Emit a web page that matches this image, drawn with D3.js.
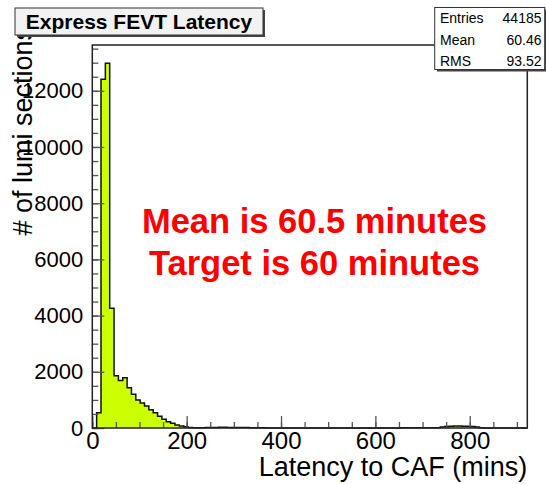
<!DOCTYPE html>
<html>
<head>
<meta charset="utf-8">
<script src="https://cdn.jsdelivr.net/npm/d3@7"></script>
<style>
  html, body { margin: 0; padding: 0; background: #fff; }
  svg { display: block; font-family: "Liberation Sans", Arial, Helvetica, sans-serif; }
</style>
</head>
<body>
<div id="chart"></div>
<script>
// histogram: 100 bins from 0 to 922 minutes
var xMin = 0, xMax = 922;
var binCounts = [
    0, 540, 12410, 12980, 4260, 1860, 1690, 1790, 1430, 1200,
    1000, 890, 780, 650, 540, 420, 310, 225, 165, 110,
    72, 45, 20, 12, 8, 10, 14, 18, 22, 24,
    24, 22, 20, 18, 16, 14, 12, 10, 8, 5,
    3, 2, 2, 1, 1, 0, 0, 0, 0, 0,
    0, 0, 0, 0, 0, 0, 0, 0, 0, 0,
    0, 0, 0, 0, 0, 0, 0, 0, 0, 3,
    4, 5, 5, 6, 6, 6, 7, 7, 8, 10,
    35, 50, 62, 68, 70, 66, 60, 50, 32, 12,
    4, 2, 0, 0, 0, 0, 0, 0, 0, 0
];
var xTicks = [0, 200, 400, 600, 800];
var yTicks = [0, 2000, 4000, 6000, 8000, 10000, 12000];
var statLabels = ['Entries', 'Mean', 'RMS'];
var statValues = ['44185', '60.46', '93.52'];
var noteLines = ['Mean is 60.5 minutes', 'Target is 60 minutes'];

var width = 546, height = 484;
var frame = {left: 92.3, right: 527.3, top: 45, bottom: 428};

var svg = d3.select('#chart').append('svg')
    .attr('width', width)
    .attr('height', height);

var binWidth = (xMax - xMin) / binCounts.length;
var yMax = d3.max(binCounts) * 1.05;

var x = d3.scaleLinear().domain([xMin, xMax]).range([frame.left, frame.right]);
var y = d3.scaleLinear().domain([0, yMax]).range([frame.bottom, frame.top]);

// frame background
svg.append('rect')
    .attr('x', frame.left).attr('y', frame.top)
    .attr('width', frame.right - frame.left)
    .attr('height', frame.bottom - frame.top)
    .attr('fill', '#fff');

// step outline of the histogram
var steps = [[xMin, 0]];
binCounts.forEach(function(c, i) {
    steps.push([xMin + i * binWidth, c]);
    steps.push([xMin + (i + 1) * binWidth, c]);
});
steps.push([xMax, 0]);

var line = d3.line()
    .x(function(d) { return x(d[0]); })
    .y(function(d) { return y(d[1]); });

svg.append('path')
    .datum(steps)
    .attr('d', line)
    .attr('fill', '#ccff00')
    .attr('stroke', '#111')
    .attr('stroke-width', 1.5)
    .attr('stroke-linejoin', 'miter');

// axes
var xMinor = d3.range(0, xMax, 50);
var yMinor = d3.range(0, yMax, 500);

svg.append('g')
    .attr('transform', 'translate(0,' + frame.bottom + ')')
    .call(d3.axisBottom(x).tickValues(xMinor).tickSize(-6).tickFormat(''))
    .call(function(g) { g.select('.domain').remove(); });

svg.append('g')
    .attr('transform', 'translate(' + frame.left + ',0)')
    .call(d3.axisLeft(y).tickValues(yMinor).tickSize(-6).tickFormat(''))
    .call(function(g) { g.select('.domain').remove(); });

var xAxis = svg.append('g')
    .attr('transform', 'translate(0,' + frame.bottom + ')')
    .call(d3.axisBottom(x).tickValues(xTicks).tickSize(-12).tickPadding(4).tickFormat(d3.format('d')));
xAxis.select('.domain').remove();
xAxis.selectAll('text').attr('font-size', 24).attr('fill', '#000');

var yAxis = svg.append('g')
    .attr('transform', 'translate(' + frame.left + ',0)')
    .call(d3.axisLeft(y).tickValues(yTicks).tickSize(-12).tickPadding(9).tickFormat(d3.format('d')));
yAxis.select('.domain').remove();
yAxis.selectAll('text').attr('font-size', 22).attr('fill', '#000');

svg.selectAll('.tick line').attr('stroke', '#555').attr('stroke-width', 1.3);
svg.selectAll('.tick text').attr('font-family', '"Liberation Sans", Arial, sans-serif');

// frame
svg.append('rect')
    .attr('x', frame.left).attr('y', frame.top)
    .attr('width', frame.right - frame.left)
    .attr('height', frame.bottom - frame.top)
    .attr('fill', 'none')
    .attr('stroke', '#222')
    .attr('stroke-width', 1.5);

// axis titles
svg.append('text')
    .attr('x', frame.right).attr('y', 476)
    .attr('text-anchor', 'end')
    .attr('font-size', 27)
    .text('Latency to CAF (mins)');

svg.append('text')
    .attr('transform', 'translate(32,27) rotate(-90)')
    .attr('text-anchor', 'end')
    .attr('font-size', 27)
    .text('# of lumi sections');

// title box
svg.append('rect')
    .attr('x', 17).attr('y', 10).attr('width', 248).attr('height', 27)
    .attr('fill', '#444');
svg.append('rect')
    .attr('x', 15).attr('y', 8).attr('width', 248).attr('height', 27)
    .attr('fill', '#f2f2f2').attr('stroke', '#333').attr('stroke-width', 1);
svg.append('text')
    .attr('x', 139).attr('y', 28.5)
    .attr('text-anchor', 'middle')
    .attr('font-size', 21)
    .attr('font-weight', 'bold')
    .text('Express FEVT Latency');

// stats box
svg.append('rect')
    .attr('x', 437).attr('y', 9.5).attr('width', 110).attr('height', 62)
    .attr('fill', '#444');
svg.append('rect')
    .attr('x', 434.7).attr('y', 7.5).attr('width', 110).attr('height', 62)
    .attr('fill', '#fff').attr('stroke', '#333').attr('stroke-width', 1);
var stats = svg.append('g').attr('font-size', 14);
statLabels.forEach(function(lab, i) {
    stats.append('text').attr('x', 440).attr('y', 23 + i * 21.5).text(lab);
    stats.append('text').attr('x', 541.5).attr('y', 23 + i * 21.5)
        .attr('text-anchor', 'end').text(statValues[i]);
});

// red note
noteLines.forEach(function(t, i) {
    svg.append('text')
        .attr('x', 314.5).attr('y', 233 + i * 42)
        .attr('text-anchor', 'middle')
        .attr('font-size', 34.5)
        .attr('font-weight', 'bold')
        .attr('fill', '#ff0000')
        .text(t);
});
</script>
</body>
</html>
